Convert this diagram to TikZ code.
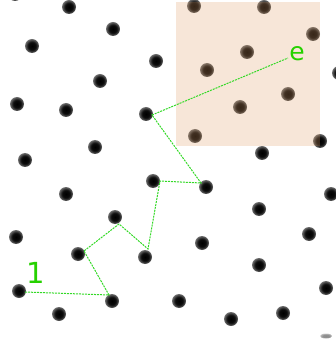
\documentclass[tikz,border=0pt]{standalone}
\usepackage{fontspec}
\setmainfont{DejaVu Sans}
\usetikzlibrary{positioning}
\definecolor{BrightGreen}{rgb}{0.15, 0.82, 0.0}
\definecolor{PathGreen}{rgb}{0.2, 0.85, 0.15}
\definecolor{SoftOrange}{rgb}{0.875, 0.61, 0.39}
\pgfdeclareradialshading{blurdot}{\pgfpoint{0bp}{0bp}}{%
  color(0bp)=(black); color(14bp)=(black!95); color(26bp)=(black!55);
  color(40bp)=(white); color(50bp)=(white)}
\def\r{7}

\begin{document}
\begin{tikzpicture}[x=1pt, y=-1pt]
\useasboundingbox (0,0) rectangle (335,352);

% puntos
\foreach \x/\y in {%
    15/-6, 69/7, 113/29, 32/46, 156/61, 100/81, 17/104, 66/110, 146/114,
    95/147, 25/160, 153/181, 194/6, 264/7, 313/34, 247/52, 207/70,
    288/94, 240/107, 195/136, 320/141, 262/153, 339/73, 66/194, 115/217,
    16/237, 78/254, 145/257, 19/291, 112/301, 59/314, 206/187, 331/194,
    259/209, 309/234, 202/243, 259/265, 326/288, 179/301, 231/319, 283/313}{%
    \shade[shading=blurdot] (\x,\y) circle (\r);
}
\shade[shading=blurdot, opacity=0.45] (326,336) ellipse (6 and 2.5);

% zona resaltada
\fill[SoftOrange, opacity=0.25] (176,2) rectangle (320,146);

% camino
\coordinate (p1) at (25,292);
\coordinate (p2) at (109,295);
\coordinate (p3) at (84,251);
\coordinate (p4) at (119,224);
\coordinate (p5) at (148,249);
\coordinate (p6) at (160,181);
\coordinate (p7) at (201,183);
\coordinate (p8) at (152,115);
\coordinate (p9) at (288,58);
\draw[PathGreen, line width=1pt, dash pattern=on 2pt off 1pt]
    (p1) -- (p2) -- (p3) -- (p4) -- (p5) -- (p6) -- (p7) -- (p8) -- (p9);

% etiquetas
\node[font=\fontsize{29}{31}\selectfont, text=BrightGreen, inner sep=0] (start) at (36,273) {1};
\node[font=\fontsize{25}{27}\selectfont, text=BrightGreen, inner sep=0] (end) at (297,54) {e};

\end{tikzpicture}
\end{document}
